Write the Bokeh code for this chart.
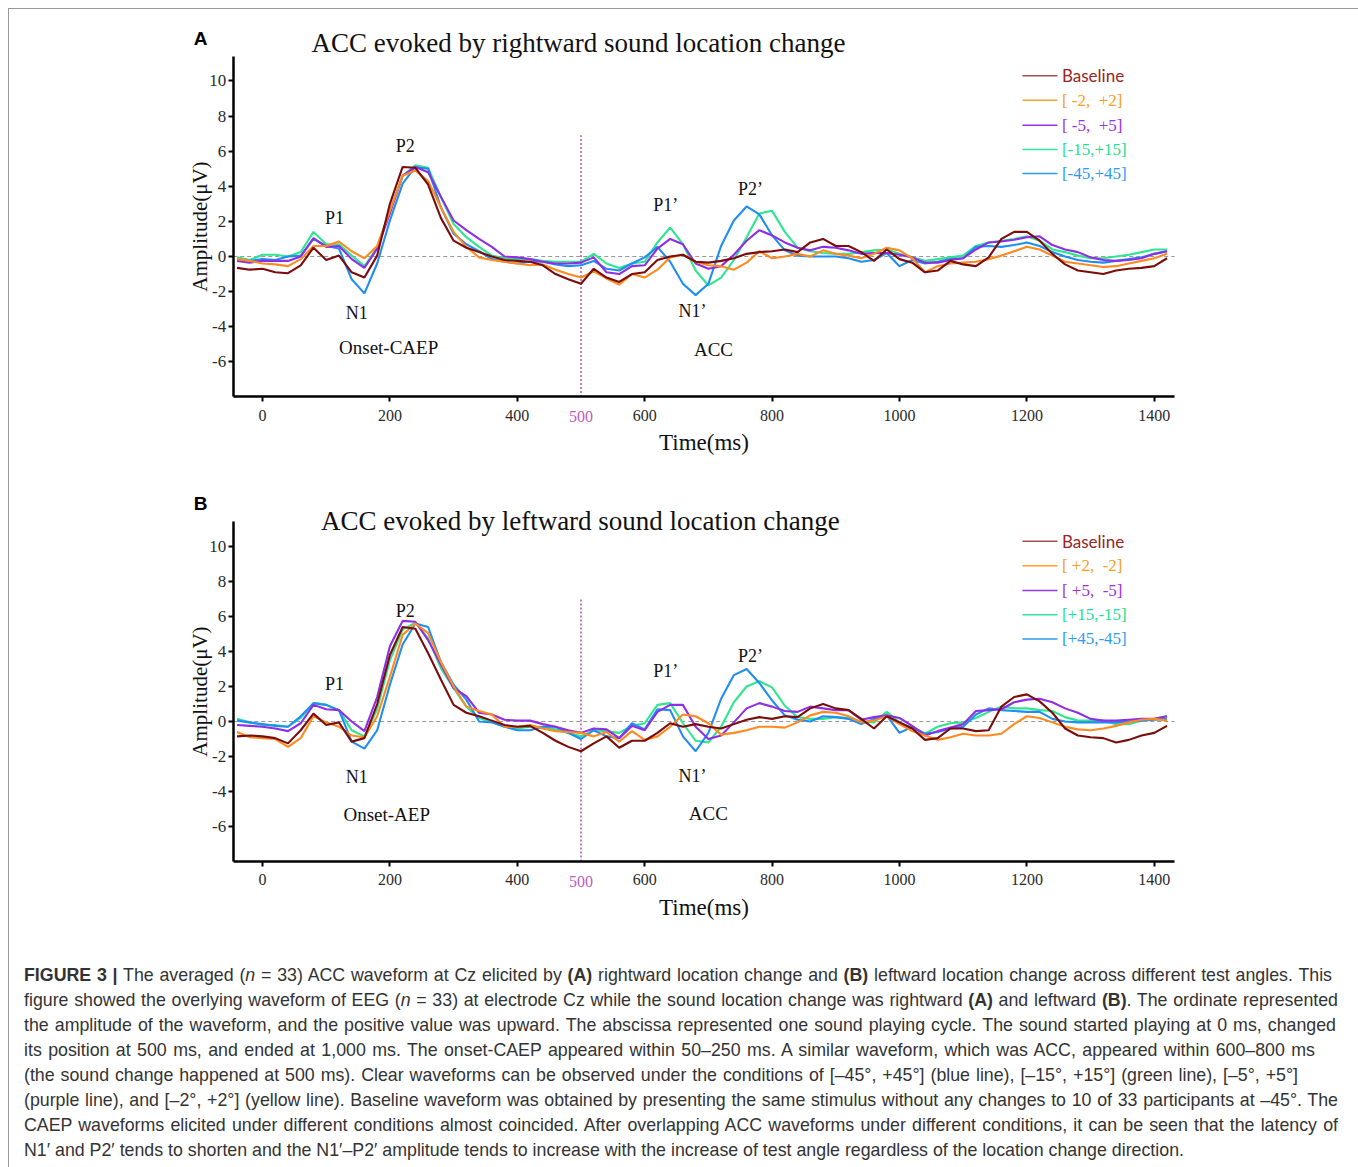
from bokeh.plotting import figure
from bokeh.models import Range1d, FixedTicker, ColumnDataSource, Div, PrintfTickFormatter
from bokeh.layouts import column
from bokeh.core.properties import value
from bokeh.embed import file_html
from bokeh.resources import INLINE

# ---------------- data ----------------
T = list(range(-40, 1421, 20))  # time in ms, 74 samples

A_BASE = [-0.65, -0.75, -0.7, -0.9, -0.95, -0.5, 0.5, -0.2, 0.05, -0.9,
          -1.2, 0.05, 3.0, 5.1, 5.05, 4.1, 2.2, 0.9, 0.5, 0.25,
          0.0, -0.2, -0.25, -0.3, -0.5, -1.0, -1.3, -1.55, -0.7, -1.2,
          -1.45, -1.0, -0.9, -0.2, 0.0, 0.1, -0.3, -0.35, -0.25, -0.1,
          0.15, 0.25, 0.3, 0.4, 0.25, 0.8, 1.0, 0.6, 0.6, 0.25,
          -0.25, 0.4, -0.15, -0.35, -0.9, -0.8, -0.25, -0.45, -0.55, -0.05,
          1.0, 1.4, 1.4, 0.9, 0.15, -0.45, -0.8, -0.9, -1.0, -0.8,
          -0.7, -0.65, -0.55, -0.1]
A_D2 = [-0.15, -0.25, -0.4, -0.45, -0.55, -0.15, 0.6, 0.6, 0.85, 0.3,
        -0.1, 0.6, 2.6, 4.6, 4.9, 4.3, 2.8, 1.4, 0.55, -0.05,
        -0.2, -0.3, -0.4, -0.5, -0.45, -0.75, -1.0, -1.2, -0.85, -1.25,
        -1.6, -1.0, -1.2, -0.75, -0.05, 0.1, -0.3, -0.5, -0.55, -0.75,
        -0.35, 0.3, -0.1, 0.0, 0.15, 0.0, 0.35, 0.15, 0.05, -0.1,
        0.15, 0.5, 0.35, -0.1, -0.9, -0.55, -0.4, -0.35, -0.3, -0.15,
        0.05, 0.3, 0.55, 0.4, 0.05, -0.3, -0.4, -0.5, -0.6, -0.55,
        -0.4, -0.25, -0.1, 0.15]
A_D5 = [-0.25, -0.35, -0.25, -0.25, -0.25, 0.0, 1.05, 0.55, 0.6, -0.15,
        -0.65, 0.45, 2.45, 4.6, 5.1, 4.8, 3.4, 2.05, 1.5, 1.0,
        0.55, 0.0, -0.05, -0.15, -0.3, -0.4, -0.4, -0.35, -0.05, -0.9,
        -1.0, -0.55, -0.5, 0.45, 1.0, 0.7, -0.4, -0.7, -0.55, 0.1,
        0.9, 1.5, 1.2, 0.8, 0.5, 0.35, 0.55, 0.5, 0.35, 0.15,
        0.2, 0.2, 0.1, -0.05, -0.35, -0.35, -0.2, -0.1, 0.4, 0.8,
        0.85, 0.95, 1.1, 1.15, 0.65, 0.4, 0.25, -0.05, -0.2, -0.25,
        -0.2, -0.1, 0.15, 0.3]
A_D15 = [-0.05, -0.2, 0.1, 0.1, 0.0, 0.25, 1.4, 0.7, 0.7, 0.05,
         -0.55, 0.5, 2.6, 4.6, 5.2, 5.05, 3.4, 1.85, 1.1, 0.55,
         0.05, -0.1, -0.15, -0.15, -0.25, -0.3, -0.3, -0.3, 0.15, -0.4,
         -0.65, -0.4, -0.3, 0.8, 1.65, 0.7, -0.8, -1.65, -1.2, -0.2,
         1.1, 2.45, 2.6, 1.4, 0.5, 0.3, 0.2, 0.15, 0.15, 0.25,
         0.35, 0.4, 0.15, -0.05, -0.25, -0.15, -0.05, 0.05, 0.6, 0.8,
         0.9, 1.0, 1.15, 0.9, 0.4, 0.25, 0.05, -0.1, -0.1, 0.0,
         0.1, 0.25, 0.4, 0.4]
A_D45 = [-0.2, -0.25, -0.15, -0.2, 0.0, 0.05, 1.0, 0.6, 0.45, -1.3,
         -2.1, -0.4, 2.05, 4.15, 5.1, 5.0, 2.8, 1.3, 0.7, 0.3,
         -0.15, -0.3, -0.4, -0.3, -0.3, -0.45, -0.55, -0.5, -0.25, -0.7,
         -0.8, -0.4, -0.05, 0.55, -0.3, -1.55, -2.2, -1.55, 0.6, 2.05,
         2.85, 2.4, 1.2, 0.35, 0.05, 0.0, 0.0, 0.0, -0.1, -0.3,
         -0.2, 0.2, -0.55, -0.2, -0.4, -0.3, -0.15, -0.1, 0.55, 0.6,
         0.55, 0.65, 0.8, 0.6, 0.25, 0.0, -0.2, -0.3, -0.35, -0.25,
         -0.15, -0.05, 0.15, 0.3]

B_BASE = [-0.85, -0.8, -0.85, -0.95, -1.25, -0.5, 0.45, -0.2, -0.05, -1.15,
          -0.95, 1.0, 3.8, 5.4, 5.3, 3.9, 2.4, 0.95, 0.5, 0.3,
          0.05, -0.2, -0.3, -0.25, -0.65, -1.1, -1.45, -1.7, -1.25, -0.85,
          -1.5, -1.1, -1.1, -0.65, -0.1, -0.3, -0.15, -0.3, -0.4, -0.15,
          0.1, 0.25, 0.15, 0.3, 0.25, 0.75, 1.0, 0.75, 0.65, 0.15,
          -0.4, 0.3, -0.05, -0.4, -1.05, -0.95, -0.4, -0.4, -0.55, -0.5,
          0.85, 1.4, 1.55, 1.15, 0.5, -0.4, -0.8, -0.9, -0.95, -1.2,
          -1.05, -0.8, -0.65, -0.25]
B_D2 = [-0.6, -0.9, -0.95, -1.0, -1.45, -0.95, 0.3, -0.05, -0.3, -0.8,
        -0.9, 0.3, 2.55, 4.95, 5.6, 5.05, 3.4, 2.0, 0.85, 0.6,
        0.4, -0.3, -0.3, -0.2, -0.4, -0.55, -0.6, -0.65, -0.85, -0.6,
        -1.15, -0.55, -1.05, -0.85, -0.3, 0.4, 0.3, -0.1, -0.75, -0.65,
        -0.5, -0.3, -0.3, -0.35, -0.05, 0.35, 0.55, 0.5, 0.3, -0.05,
        0.05, 0.3, -0.15, -0.55, -0.8, -1.05, -0.9, -0.7, -0.8, -0.8,
        -0.7, -0.15, 0.3, 0.2, -0.05, -0.3, -0.45, -0.5, -0.4, -0.25,
        -0.05, 0.1, 0.15, 0.05]
B_D5 = [-0.2, -0.25, -0.3, -0.4, -0.55, -0.1, 0.95, 0.7, 0.65, 0.0,
        -0.55, 1.4, 4.3, 5.75, 5.7, 4.65, 3.25, 1.9, 1.45, 0.5,
        0.4, 0.1, 0.05, 0.05, -0.15, -0.3, -0.5, -0.65, -0.4, -0.45,
        -0.95, -0.25, -0.5, 0.55, 0.95, 0.95, -0.3, -1.0, -0.8, -0.05,
        0.75, 1.05, 0.85, 0.6, 0.55, 0.85, 0.75, 0.65, 0.65, 0.1,
        0.25, 0.35, 0.2, -0.25, -0.8, -0.55, -0.35, -0.15, 0.6, 0.65,
        0.7, 1.1, 1.25, 1.3, 1.1, 0.75, 0.5, 0.15, 0.05, 0.05,
        0.1, 0.15, 0.15, 0.3]
B_D15 = [0.15, -0.05, -0.2, -0.2, -0.3, 0.2, 1.05, 0.95, 0.65, -0.5,
         -0.85, 0.7, 3.5, 5.25, 5.65, 4.75, 3.05, 1.9, 0.85, 0.2,
         -0.05, -0.3, -0.4, -0.3, -0.3, -0.45, -0.65, -0.85, -0.5, -0.55,
         -0.65, -0.25, -0.1, 0.95, 1.05, -0.1, -1.1, -1.2, -0.3, 1.1,
         2.0, 2.3, 1.95, 0.9, 0.25, 0.15, 0.15, 0.25, 0.2, 0.0,
         -0.05, 0.55, -0.05, -0.35, -0.7, -0.3, -0.1, -0.05, 0.2, 0.55,
         0.85, 0.75, 0.75, 0.65, 0.6, 0.25, 0.05, 0.05, 0.05, -0.15,
         -0.15, 0.05, 0.15, 0.3]
B_D45 = [0.05, -0.05, -0.15, -0.25, -0.3, 0.3, 1.05, 0.95, 0.65, -1.15,
         -1.55, -0.5, 2.1, 4.4, 5.6, 5.4, 3.4, 2.1, 1.25, 0.0,
         -0.05, -0.3, -0.5, -0.5, -0.3, -0.3, -0.65, -1.0, -0.5, -0.85,
         -0.95, -0.1, -0.45, 0.7, 0.65, -0.85, -1.7, -0.65, 1.3, 2.65,
         3.0, 2.2, 1.2, 0.35, 0.1, 0.0, 0.3, 0.25, 0.15, -0.15,
         0.15, 0.35, -0.65, -0.3, -0.7, -0.6, -0.4, -0.3, 0.4, 0.75,
         0.65, 0.6, 0.55, 0.55, 0.15, 0.0, -0.05, -0.05, -0.05, -0.05,
         0.0, 0.05, 0.1, 0.15]

LEGEND_A = ["Baseline", "[\u00a0-2,\u00a0\u00a0+2]", "[\u00a0-5,\u00a0\u00a0+5]", "[-15,+15]", "[-45,+45]"]
LEGEND_B = ["Baseline", "[\u00a0+2,\u00a0\u00a0-2]", "[\u00a0+5,\u00a0\u00a0-5]", "[+15,-15]", "[+45,-45]"]

X_TICKS = [0, 200, 400, 600, 800, 1000, 1200, 1400]
Y_TICKS = [-6, -4, -2, 0, 2, 4, 6, 8, 10]
CHANGE_T = 500

PEAKS = ["P1", "N1", "P2", "P1\u2019", "N1\u2019", "P2\u2019"]

# ---------------- styles ----------------
LINE_COLORS = ["#7a0c0c", "#ff8a1f", "#8e2ee6", "#2fe68f", "#1e8ef5"]
LEG_LINE_COLORS = ["#a65050", "#f5a32a", "#9b35ea", "#2ee69a", "#2b9cf2"]
LEG_TEXT_COLORS = ["#9a2424", "#f5a01a", "#9b30e8", "#1fe08f", "#2b9cf2"]
LEG_FONTS = ["Lato", "Liberation Serif", "Liberation Serif", "Liberation Serif", "Liberation Serif"]
DRAW_ORDER = [3, 4, 2, 1, 0]

X_MIN, X_MAX = -46, 1432
Y_MIN, Y_TOP = -8, 11.4
WIDTH = 1346
X_RANGE = (-397.2, 1715.9)

SERIF = "Liberation Serif"


def make_panel(series, legend, letter, title, onset, height, y_range, vtop,
               title_xy, letter_xy, peak_xy, onset_xy, acc_xy):
    p = figure(width=WIDTH, height=height, output_backend="svg", toolbar_location=None,
               x_range=Range1d(*X_RANGE), y_range=Range1d(*y_range), title=None,
               min_border=0, min_border_left=0, min_border_right=0,
               min_border_top=0, min_border_bottom=0)
    p.outline_line_color = None
    p.grid.visible = False
    p.background_fill_color = "white"
    p.border_fill_color = "white"

    # zero reference and stimulus-change line
    p.line([X_MIN, X_MAX], [0, 0], line_color="#9a9a9a", line_dash="4 3", line_width=1.2)
    p.line([CHANGE_T, CHANGE_T], [Y_MIN, vtop], line_color="#b354b3", line_dash="2 2", line_width=1.5)

    for i in DRAW_ORDER:
        p.line(T, series[i], line_color=LINE_COLORS[i], line_width=2.1)

    xa = p.xaxis[0]
    xa.fixed_location = Y_MIN
    xa.bounds = (X_MIN, X_MAX)
    xa.ticker = FixedTicker(ticks=X_TICKS)
    ya = p.yaxis[0]
    ya.fixed_location = X_MIN
    ya.bounds = (Y_MIN, Y_TOP)
    ya.ticker = FixedTicker(ticks=Y_TICKS)
    for ax in (xa, ya):
        ax.formatter = PrintfTickFormatter(format="%d")
        ax.axis_line_color = "black"
        ax.axis_line_width = 2.5
        ax.major_tick_line_color = "black"
        ax.major_tick_line_width = 2
        ax.major_tick_out = 5
        ax.major_tick_in = 0
        ax.minor_tick_out = 0
        ax.minor_tick_in = 0
        ax.major_label_text_font = SERIF
        ax.major_label_text_color = "#2a2a2a"
        ax.axis_label_text_font = SERIF
        ax.axis_label_text_font_style = "normal"
        ax.axis_label_text_color = "#111111"
    xa.major_label_text_font_size = "16px"
    xa.major_label_standoff = 8
    xa.axis_label = "Time(ms)"
    xa.axis_label_text_font_size = "23px"
    xa.axis_label_standoff = 6
    ya.major_label_text_font_size = "17px"
    ya.major_label_standoff = 2
    ya.axis_label = "Amplitude(\u03bcV)"
    ya.axis_label_text_font_size = "21px"
    ya.axis_label_standoff = -5

    # magenta 500 marker label
    p.text(x=[CHANGE_T], y=[Y_MIN - 1.12], text=[str(CHANGE_T)], text_font=value(SERIF),
           text_font_size="16px", text_color="#c05ac0", text_align="center", text_baseline="middle")

    # title and panel letter
    p.text(x=[title_xy[0]], y=[title_xy[1]], text=[title], text_font=value(SERIF),
           text_font_size="27px", text_color="#111111", text_align="center", text_baseline="middle")
    p.text(x=[letter_xy[0]], y=[letter_xy[1]], text=[letter], text_font=value("Liberation Sans"),
           text_font_style="bold", text_font_size="19px", text_color="#000000",
           text_align="center", text_baseline="middle")

    # peak annotations
    p.text(x=[q[0] for q in peak_xy], y=[q[1] for q in peak_xy], text=PEAKS,
           text_font=value(SERIF), text_font_size="18px", text_color="#111111",
           text_align="center", text_baseline="middle")
    p.text(x=[onset_xy[0], acc_xy[0]], y=[onset_xy[1], acc_xy[1]], text=[onset, "ACC"],
           text_font=value(SERIF), text_font_size="19px", text_color="#111111",
           text_align="center", text_baseline="middle")

    # legend
    leg_y = [10.3, 8.9, 7.48, 6.1, 4.72]
    src = ColumnDataSource(dict(
        x0=[1193] * 5, x1=[1248] * 5, tx=[1255] * 5, y=leg_y, label=legend,
        lc=LEG_LINE_COLORS, tc=LEG_TEXT_COLORS, font=LEG_FONTS))
    p.segment(x0="x0", x1="x1", y0="y", y1="y", line_color="lc", line_width=1.5, source=src)
    p.text(x="tx", y="y", text="label", text_color="tc", text_font="font",
           text_font_size="17px", text_align="left", text_baseline="middle", source=src)
    return p


pA = make_panel([A_BASE, A_D2, A_D5, A_D15, A_D45], LEGEND_A, "A",
                "ACC evoked by rightward sound location change", "Onset-CAEP",
                465, (-12.415, 14.066), 6.9,
                (496, 12.13), (-97, 12.41),
                [(113, 2.22), (148, -3.19), (224, 6.32), (633, 2.96), (675, -3.08), (766, 3.82)],
                (198, -5.18), (708, -5.3))
pB = make_panel([B_BASE, B_D2, B_D5, B_D15, B_D45], LEGEND_B, "B",
                "ACC evoked by leftward sound location change", "Onset-AEP",
                471, (-12.8, 14.114), 7.0,
                (499, 11.43), (-97, 12.46),
                [(113, 2.17), (148, -3.2), (224, 6.34), (633, 2.91), (675, -3.14), (766, 3.77)],
                (195, -5.31), (700, -5.26))

CAPTION_LINES = [
    "<b>FIGURE 3 |</b> The averaged (<i>n</i> = 33) ACC waveform at Cz elicited by <b>(A)</b> rightward location change and <b>(B)</b> leftward location change across different test angles. This",
    "figure showed the overlying waveform of EEG (<i>n</i> = 33) at electrode Cz while the sound location change was rightward <b>(A)</b> and leftward <b>(B)</b>. The ordinate represented",
    "the amplitude of the waveform, and the positive value was upward. The abscissa represented one sound playing cycle. The sound started playing at 0 ms, changed",
    "its position at 500 ms, and ended at 1,000 ms. The onset-CAEP appeared within 50\u2013250 ms. A similar waveform, which was ACC, appeared within 600\u2013800 ms",
    "(the sound change happened at 500 ms). Clear waveforms can be observed under the conditions of [\u201345\u00b0, +45\u00b0] (blue line), [\u201315\u00b0, +15\u00b0] (green line), [\u20135\u00b0, +5\u00b0]",
    "(purple line), and [\u20132\u00b0, +2\u00b0] (yellow line). Baseline waveform was obtained by presenting the same stimulus without any changes to 10 of 33 participants at \u201345\u00b0. The",
    "CAEP waveforms elicited under different conditions almost coincided. After overlapping ACC waveforms under different conditions, it can be seen that the latency of",
    "N1\u2032 and P2\u2032 tends to shorten and the N1\u2032\u2013P2\u2032 amplitude tends to increase with the increase of test angle regardless of the location change direction.",
]
LINE_WIDTHS = [1308, 1314, 1312, 1291, 1274, 1314, 1314, None]

rows = []
for txt, w in zip(CAPTION_LINES, LINE_WIDTHS):
    if w is None:
        rows.append(f'<div style="white-space:nowrap;">{txt}</div>')
    else:
        rows.append(f'<div style="width:{w}px;white-space:nowrap;text-align:justify;'
                    f'text-align-last:justify;">{txt}</div>')
caption_html = ('<div style="font-family:\'Liberation Sans\',Arial,sans-serif;font-size:17.8px;'
                'line-height:25px;color:#333333;padding:13px 0 0 10px;">' + "".join(rows) + '</div>')
cap = Div(text=caption_html, width=WIDTH, height=212)

layout = column(pA, pB, cap, styles={"border": "1px solid #9a9a9a", "border-bottom": "none",
                                     "background-color": "white",
                                     "margin-left": "8px", "margin-top": "8px"})

open("out.html", "w").write(file_html(layout, INLINE))
